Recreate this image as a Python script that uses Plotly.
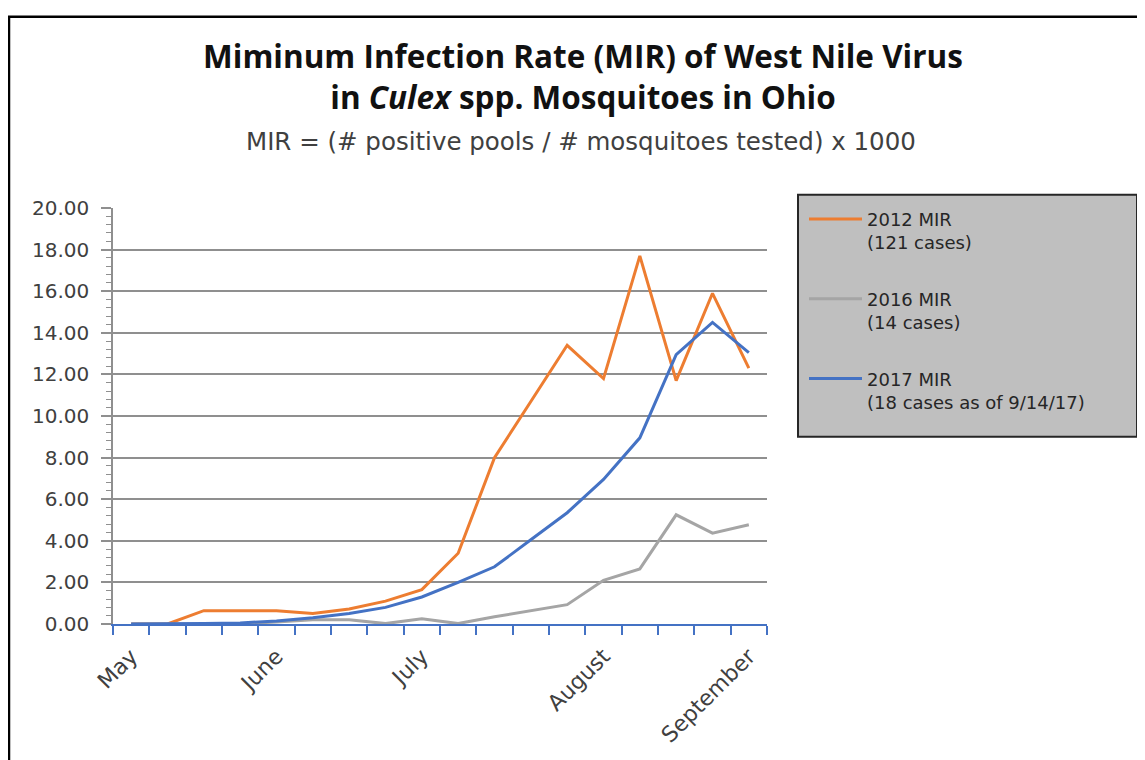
import plotly.graph_objects as go

# ---- data ----
weeks = [f"Wk {w}" for w in range(18, 36)]
month_labels = ["May", "", "", "", "June", "", "", "", "July", "", "", "", "",
                "August", "", "", "", "September"]
mir_2012 = [0.0, 0.0, 0.64, 0.64, 0.64, 0.5, 0.72, 1.1, 1.65, 3.4, 8.0, 10.7,
            13.4, 11.8, 17.7, 11.7, 15.9, 12.3]
mir_2016 = [0.0, 0.0, 0.0, 0.0, 0.1, 0.2, 0.2, 0.02, 0.25, 0.02, 0.35, 0.65,
            0.93, 2.1, 2.65, 5.25, 4.37, 4.77]
mir_2017 = [0.0, 0.0, 0.03, 0.05, 0.15, 0.3, 0.5, 0.8, 1.3, 2.0, 2.75, 4.05,
            5.35, 6.95, 8.95, 12.95, 14.5, 13.05]
series_names = ["2012 MIR<br>(121 cases)", "2016 MIR<br>(14 cases)",
                "2017 MIR<br>(18 cases as of 9/14/17)"]
series_colors = ["#ED7D31", "#A5A5A5", "#4472C4"]

# page offset of the figure (body margin)
OFF = 8
W, H = 1145 - OFF, 760 - OFF
L = 113 - OFF
T = 208.3 - OFF
R = W - (767 - OFF)
B = H - (624.3 - OFF)
PW, PH = W - L - R, H - T - B


def px_x(px):  # page px -> paper x
    return (px - OFF - L) / PW


def px_y(py):  # page px -> paper y
    return (H - B - (py - OFF)) / PH


fig = go.Figure()
for i, (vals, name, col) in enumerate(zip([mir_2012, mir_2016, mir_2017],
                                          series_names, series_colors)):
    fig.add_trace(go.Scatter(x=weeks, y=vals, name=name, mode="lines",
                             line=dict(color=col, width=3),
                             legendgroup=f"g{i}"))

grid_col = "#8f8f8f"
tick_font = dict(family="DejaVu Sans", size=20, color="#404040")

fig.update_layout(
    width=W, height=H,
    margin=dict(l=L, r=R, t=T, b=B),
    paper_bgcolor="white", plot_bgcolor="white",
    title=dict(
        text="<b>Miminum Infection Rate (MIR) of West Nile Virus</b><br>"
             "<b>in <i>Culex</i> spp. Mosquitoes in Ohio</b>",
        font=dict(family="Open Sans", size=31.5, color="#111111"),
        x=(583 - OFF) / W, xanchor="center", xref="container",
        y=1 - 60 / H, yanchor="middle", yref="container"),
    xaxis=dict(
        type="category", range=[-0.5, len(weeks) - 0.5],
        tickvals=weeks, ticktext=month_labels, tickson="boundaries",
        ticks="outside", ticklen=9, tickwidth=1.5, tickcolor="#4472C4",
        showline=True, linecolor="#4472C4", linewidth=1.5,
        showgrid=False, tickangle=-45, ticklabelstandoff=9,
        tickfont=dict(family="DejaVu Sans", size=22, color="#404040")),
    yaxis=dict(
        range=[0, 20], dtick=2, tickformat=".2f",
        showgrid=True, gridcolor=grid_col, gridwidth=1.6, zeroline=False,
        showline=True, linecolor=grid_col, linewidth=1.5,
        ticks="outside", ticklen=10, tickwidth=1.5, tickcolor=grid_col,
        minor=dict(dtick=0.4, ticks="outside", ticklen=5, tickwidth=1,
                   tickcolor=grid_col, showgrid=False),
        tickfont=tick_font, ticklabelstandoff=8),
    yaxis2=dict(
        overlaying="y", side="left", range=[0, 20], dtick=2,
        showgrid=False, zeroline=False, showline=False, showticklabels=False,
        ticks="inside", ticklen=5, tickwidth=1.5, tickcolor=grid_col,
        minor=dict(dtick=0.4, ticks="inside", ticklen=5, tickwidth=1,
                   tickcolor=grid_col, showgrid=False)),
    legend=dict(
        x=px_x(804), y=px_y(201), xanchor="left", yanchor="top",
        bgcolor="rgba(0,0,0,0)", borderwidth=0,
        font=dict(family="DejaVu Sans", size=18, color="#262626"),
        valign="top", tracegroupgap=30, itemwidth=53),
    annotations=[dict(
        text="MIR = (# positive pools / # mosquitoes tested) x 1000",
        x=px_x(581), y=px_y(142), xref="paper", yref="paper",
        xanchor="center", yanchor="middle", showarrow=False,
        font=dict(family="DejaVu Sans", size=24.5, color="#404040"))],
    shapes=[
        dict(type="rect", xref="paper", yref="paper",
             x0=px_x(798), x1=px_x(1137), y0=px_y(437), y1=px_y(195),
             fillcolor="#BFBFBF", line=dict(color="#262626", width=2),
             layer="below"),
        dict(type="rect", xref="paper", yref="paper",
             x0=px_x(9), x1=px_x(1142), y0=px_y(800), y1=px_y(17),
             fillcolor="rgba(0,0,0,0)", line=dict(color="black", width=2.5),
             layer="above"),
    ],
    showlegend=True,
)

fig.write_html("out.html")
